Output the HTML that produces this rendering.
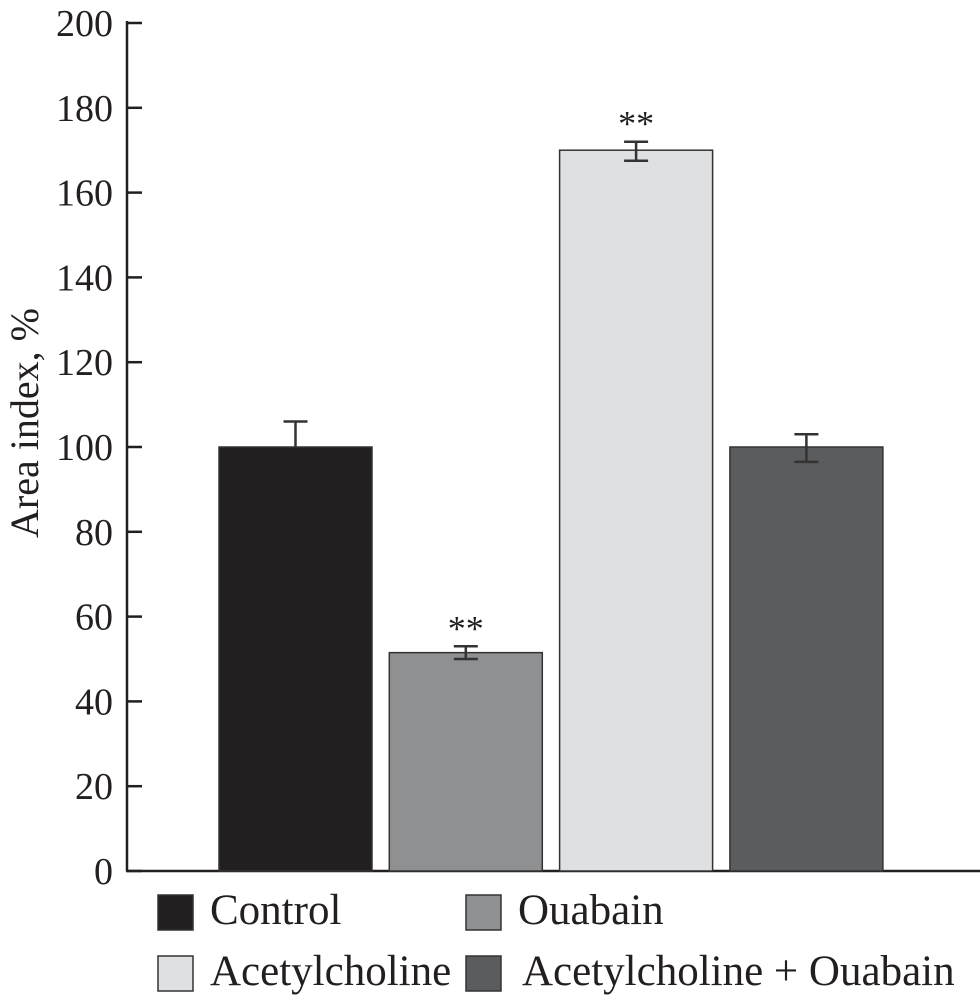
<!DOCTYPE html>
<html><head><meta charset="utf-8"><style>
html,body{margin:0;padding:0;background:#fff;}
svg{display:block;font-family:"Liberation Serif",serif;}
</style></head><body>
<svg id="chart" width="980" height="1003" viewBox="0 0 980 1003">
<g id="axes"></g><g id="bars"></g><g id="legend"></g>
</svg>
<script>
const categories = ["Control","Ouabain","Acetylcholine","Acetylcholine + Ouabain"];
const values = [100, 51.5, 170, 100];
const errLow = [100, 50, 167.5, 96.5];
const errHigh = [106, 53, 172, 103];
const lowCap = [false, true, true, true];
const marks = ["", "**", "**", ""];
const colors = ["#231f20","#8e9092","#dfe0e2","#5b5c5e"];
const yTicks = [0,20,40,60,80,100,120,140,160,180,200];

const NS="http://www.w3.org/2000/svg";
function el(tag, attrs, parent, text){const e=document.createElementNS(NS,tag);for(const k in attrs)e.setAttribute(k,attrs[k]);if(text!==undefined)e.textContent=text;parent.appendChild(e);return e;}
const y0=871, yTop=23;
function y(v){return y0-(v/200)*(y0-yTop);}
const barX0=219, barW=153;
function xb(i){return barX0+i*170.3;}
const axes=document.getElementById('axes'), bars=document.getElementById('bars'), legend=document.getElementById('legend');

const yl=el('line',{x1:127,y1:y0,x2:127,y2:yTop-2,stroke:'#231f20','stroke-width':2.5},axes);


const xl=el('line',{x1:126,y1:y0,x2:980,y2:y0,stroke:'#231f20','stroke-width':2.5},axes);


yTicks.forEach(t=>{
  const tk=el('line',{x1:127,y1:y(t),x2:142,y2:y(t),stroke:'#231f20','stroke-width':2.5},axes);
  
  
  const lb=el('text',{x:113,y:y(t)+13,'text-anchor':'end','font-size':38,fill:'#231f20'},axes,String(t));
  
  
});
const title=el('text',{transform:'translate(38,423) rotate(-90)','text-anchor':'middle','font-size':40,fill:'#231f20'},axes,'Area index, %');



values.forEach((v,i)=>{
  const x=xb(i), cx=x+barW/2;
  const r=el('rect',{x:x,y:y(v),width:barW,height:y0-y(v),fill:colors[i],stroke:'#333','stroke-width':1.5},bars);
  
  
  const g=el('g',{stroke:'#333','stroke-width':2.5},bars);
  
  
  el('line',{x1:cx,y1:y(errLow[i]),x2:cx,y2:y(errHigh[i])},g);
  el('line',{x1:cx-12,y1:y(errHigh[i]),x2:cx+12,y2:y(errHigh[i])},g);
  if(lowCap[i]) el('line',{x1:cx-12,y1:y(errLow[i]),x2:cx+12,y2:y(errLow[i])},g);
  if(marks[i]){
    const m=el('text',{x:cx,y:y(errHigh[i])-6,'text-anchor':'middle','font-size':36,fill:'#231f20'},bars,marks[i]);
    
    
  }
});

const lx=[158,466,158,466], ly=[895,895,956,956], tx=[210,518,210,522];
categories.forEach((c,i)=>{
  const s=el('rect',{x:lx[i],y:ly[i],width:35,height:35,fill:colors[i],stroke:'#333','stroke-width':1.5},legend);
  
  
  const t=el('text',{x:tx[i],y:ly[i]+29,'font-size':43,fill:'#231f20'},legend,c);
  
  
});
</script>
</body></html>
